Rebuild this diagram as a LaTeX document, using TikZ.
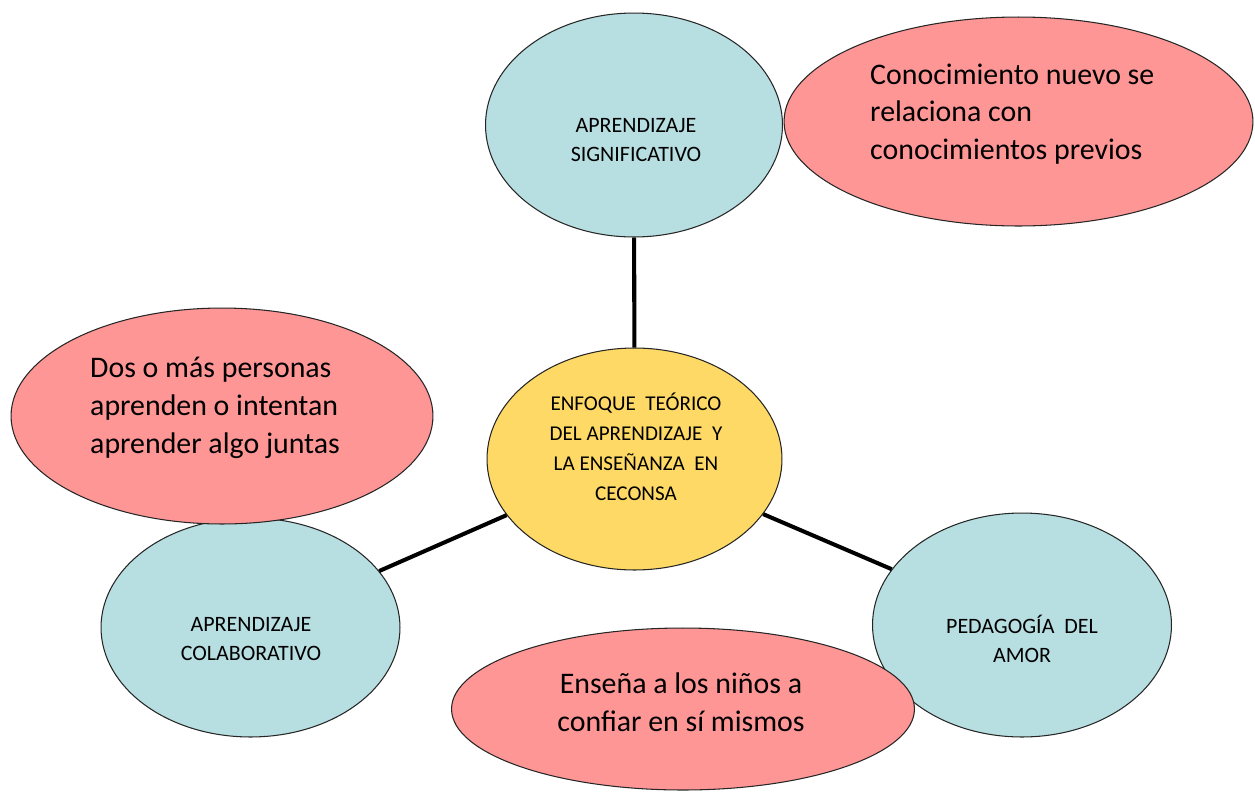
\documentclass[tikz,border=0pt]{standalone}
\usepackage{fontspec}
\setmainfont{Carlito}
\usetikzlibrary{shapes.geometric}
\definecolor{bluebub}{HTML}{B7DEE1}
\definecolor{pinkbub}{HTML}{FF9696}
\definecolor{yellowbub}{HTML}{FED966}
\begin{document}
\begin{tikzpicture}[x=0.02cm,y=-0.02cm,
  bubble/.style 2 args={ellipse,draw=black!85,line width=0.6pt,inner sep=0pt,minimum width=#1,minimum height=#2},
  smalltxt/.style={align=center,font=\fontsize{12.5}{16.4}\selectfont},
  bigtxt/.style={align=left,font=\fontsize{17}{21.5}\selectfont},
  link/.style={line width=2.3pt}]
\useasboundingbox (0,0) rectangle (1255,792);
%centre
\node[bubble={5.9cm}{4.44cm},fill=yellowbub](cen) at (634.5,459){};
\node[align=center,font=\fontsize{12}{17}\selectfont](cent) at (636,447){ENFOQUE \ TEÓRICO\\DEL APRENDIZAJE \ Y\\LA ENSEÑANZA \ EN\\CECONSA};
%branches
\node[bubble={5.94cm}{4.48cm},fill=bluebub](sig) at (634,125){};
\node[bubble={5.98cm}{4.38cm},fill=bluebub](col) at (250.5,627.5){};
\node[bubble={5.98cm}{4.48cm},fill=bluebub](ped) at (1022,625){};
\node[smalltxt](sigt) at (636,140){APRENDIZAJE\\SIGNIFICATIVO};
\node[smalltxt](colt) at (251,639){APRENDIZAJE\\COLABORATIVO};
\node[smalltxt](pedt) at (1022,639){PEDAGOGÍA \ DEL\\AMOR};
%links
\draw[link](sig)--(cen);
\draw[link](col)--(cen);
\draw[link](ped)--(cen);
%notes
\node[bubble={9.38cm}{4.18cm},fill=pinkbub](sigd) at (1018.5,121.5){};
\node[bubble={8.44cm}{4.32cm},fill=pinkbub](cold) at (222,416){};
\node[bubble={9.26cm}{3.24cm},fill=pinkbub](pedd) at (683,709){};
\node[bigtxt,anchor=west](sigdt) at (864,114){Conocimiento nuevo se\\relaciona con\\conocimientos previos};
\node[bigtxt,anchor=west](coldt) at (84,408){Dos o más personas\\aprenden o intentan\\aprender algo juntas};
\node[bigtxt,align=center](peddt) at (681,702){Enseña a los niños a\\confiar en sí mismos};
\end{tikzpicture}
\end{document}
